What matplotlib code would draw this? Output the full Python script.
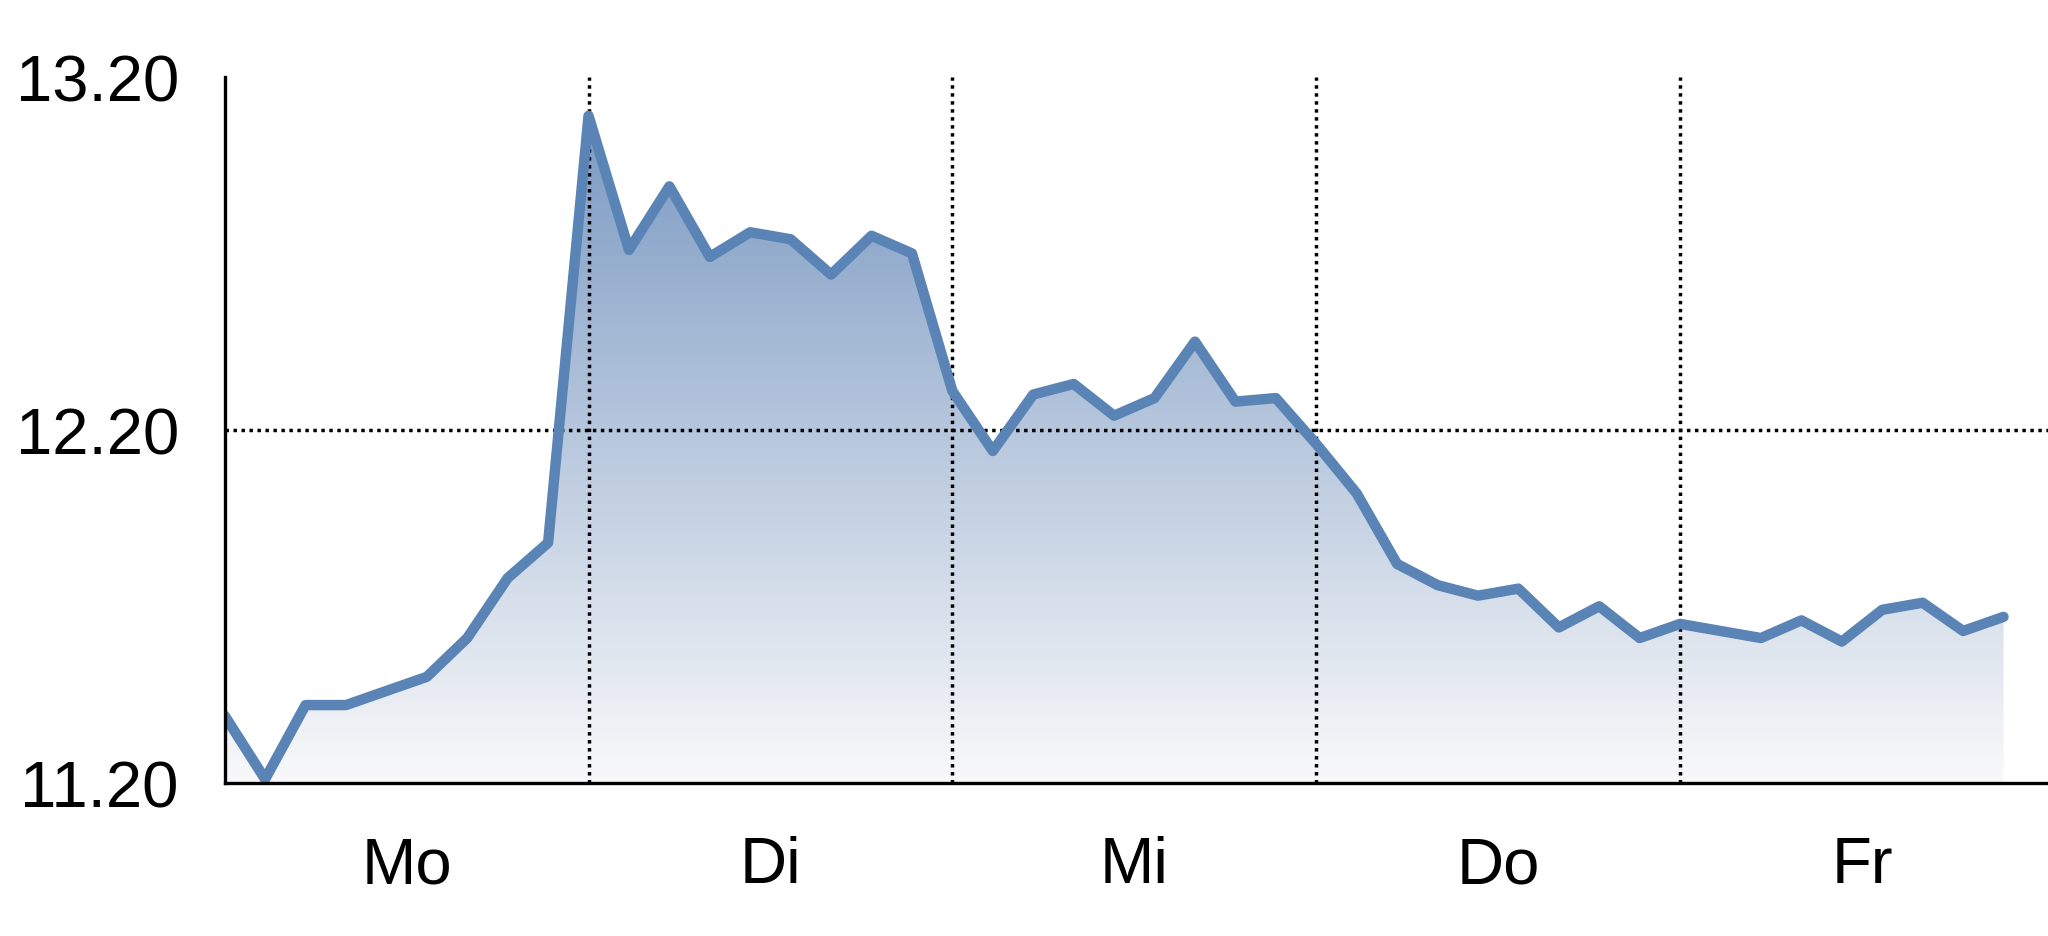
import numpy as np
import matplotlib
matplotlib.use("Agg")
import matplotlib.pyplot as plt
from matplotlib.colors import LinearSegmentedColormap

# ---- data ----
values = [11.39, 11.21, 11.42, 11.42, 11.46, 11.50, 11.61, 11.78, 11.88,
          13.09, 12.71, 12.89, 12.69, 12.76, 12.74, 12.64, 12.75, 12.70,
          12.31, 12.14, 12.30, 12.33, 12.24, 12.29, 12.45, 12.28, 12.29,
          12.16, 12.02, 11.82, 11.76, 11.73, 11.75, 11.64, 11.70, 11.61,
          11.65, 11.63, 11.61, 11.66, 11.60, 11.69, 11.71, 11.63, 11.67]
day_labels = ["Mo", "Di", "Mi", "Do", "Fr"]
points_per_day = 9
y_ticks = [11.20, 12.20, 13.20]

x = np.arange(len(values))
y = np.array(values)

plt.rcParams["font.family"] = ["Liberation Sans", "DejaVu Sans"]

fig = plt.figure(figsize=(20.48, 9.37), dpi=100)
ax = fig.add_axes([0.1097, 0.1636, 0.8903, 0.7532])

ymin, ymax = y_ticks[0], y_ticks[-1]
xmax = len(day_labels) * points_per_day
ax.set_xlim(0, xmax + 0.1)
ax.set_ylim(ymin, ymax)

line_color = "#5a84b6"

# gradient fill
cmap = LinearSegmentedColormap.from_list("g", ["#f9f9fa", "#7394bf"])
grad = np.linspace(0, 1, 256).reshape(-1, 1)
im = ax.imshow(grad, cmap=cmap, aspect="auto", origin="lower",
               extent=[x[0], x[-1], ymin, ymax], zorder=1, interpolation="bilinear")
poly = ax.fill_between(x, y, ymin, color="none", lw=0)
clip = poly.get_paths()[0]
im.set_clip_path(clip, transform=ax.transData)

ax.plot(x, y, color=line_color, lw=7.5, solid_capstyle="round",
        solid_joinstyle="round", zorder=4)

# dotted grid lines
dot = (0, (1, 1.3))
for k in range(1, len(day_labels)):
    ax.axvline(k * points_per_day, color="black", lw=2.5, linestyle=dot, zorder=3)
ax.axhline(y_ticks[1], color="black", lw=2.5, linestyle=dot, zorder=3)

for s in ["top", "right"]:
    ax.spines[s].set_visible(False)
for s in ["left", "bottom"]:
    ax.spines[s].set_linewidth(2.4)
    ax.spines[s].set_color("black")
    ax.spines[s].set_zorder(5)

ax.set_yticks(y_ticks)
ax.set_yticklabels([f"{v:.2f}" for v in y_ticks])
centers = [points_per_day * k + points_per_day / 2 for k in range(len(day_labels))]
ax.set_xticks(centers)
ax.set_xticklabels(day_labels)
ax.tick_params(axis="both", length=0, labelsize=47)
ax.tick_params(axis="y", pad=33)
ax.tick_params(axis="x", pad=38)

fig.savefig("out.png", dpi=100, facecolor="white")
